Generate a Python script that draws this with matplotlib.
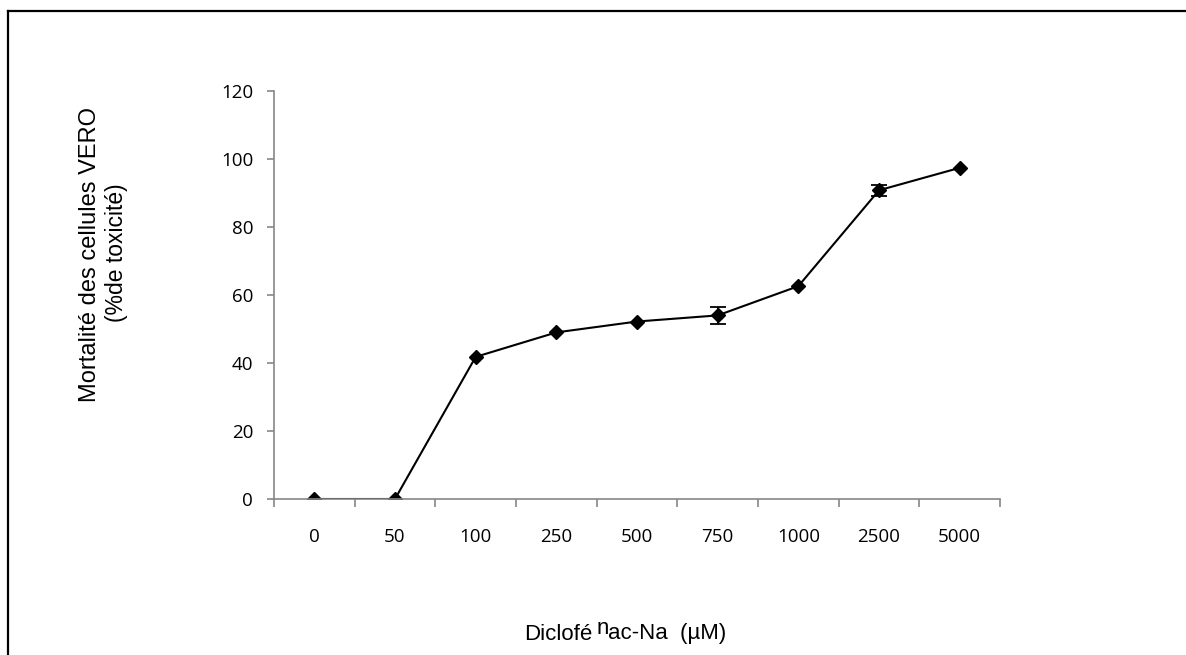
import matplotlib
matplotlib.use("Agg")
import matplotlib.pyplot as plt
from matplotlib.lines import Line2D
from matplotlib.ticker import FixedLocator

categories = ["0", "50", "100", "250", "500", "750", "1000", "2500", "5000"]
mortality = [0, 0, 41.8, 49.0, 52.2, 54.0, 62.6, 90.8, 97.4]
errors = [0, 0, 0, 0, 0, 2.6, 0, 1.6, 0]
yticks = [0, 20, 40, 60, 80, 100, 120]

W, H = 1186, 655
fig = plt.figure(figsize=(W / 100, H / 100), dpi=100)

def fx(px):
    return px / W

def fy(py):
    return 1 - py / H

# outer frame (only left and top edges visible)
fig.add_artist(Line2D([fx(8), fx(8)], [fy(H + 10), fy(11)], transform=fig.transFigure,
                      color="black", linewidth=1.6))
fig.add_artist(Line2D([fx(8), fx(W + 10)], [fy(11), fy(11)], transform=fig.transFigure,
                      color="black", linewidth=1.6))

ax = fig.add_axes([fx(274), fy(499), fx(1000) - fx(274), fy(91) - fy(499)])
x = list(range(len(categories)))
ax.plot(x, mortality, color="black", linewidth=1.5, marker="D", markersize=7.5)
ex = [xi for xi, e in zip(x, errors) if e > 0]
ey = [m for m, e in zip(mortality, errors) if e > 0]
ee = [e for e in errors if e > 0]
ax.errorbar(ex, ey, yerr=ee, fmt="none", ecolor="black", capsize=6,
            elinewidth=1.3, capthick=1.3)

ax.set_xlim(-0.5, len(categories) - 0.5)
ax.set_ylim(0, 120)
ax.set_yticks(yticks)
ax.set_yticklabels([str(v) for v in yticks])

ax.xaxis.set_major_locator(FixedLocator([i - 0.5 for i in range(len(categories) + 1)]))
ax.xaxis.set_minor_locator(FixedLocator(x))
ax.set_xticklabels([], minor=False)
ax.set_xticklabels(categories, minor=True)
ax.tick_params(axis="x", which="major", direction="out", length=6, width=1.2,
               color="#868686")
ax.tick_params(axis="x", which="minor", length=0, pad=21, labelsize=13.5)
ax.tick_params(axis="y", direction="out", length=5, width=1.2, color="#868686",
               pad=10, labelsize=13.5)
for lab in ax.get_xticklabels(minor=True) + ax.get_yticklabels():
    lab.set_fontfamily("Open Sans")

for s in ["top", "right"]:
    ax.spines[s].set_visible(False)
for s in ["left", "bottom"]:
    ax.spines[s].set_color("#868686")
    ax.spines[s].set_linewidth(1.2)

# y label (two lines)
fig.text(fx(90), fy(254), "Mortalité des cellules VERO", rotation=90,
         ha="center", va="center", fontsize=17, family="Liberation Sans")
fig.text(fx(117), fy(253), "(%de toxicité)", rotation=90,
         ha="center", va="center", fontsize=16.5, family="Liberation Sans")

# x label (with the displaced "n" as in the reference)
renderer = fig.canvas.get_renderer()
t1 = fig.text(fx(524), fy(634), "Diclofé", ha="left", va="center",
              fontsize=16, family="Liberation Sans")
bb1 = t1.get_window_extent(renderer)
t2 = fig.text((bb1.x1 + 4) / W, fy(629), "n", ha="left", va="center",
              fontsize=16, family="Liberation Sans")
bb2 = t2.get_window_extent(renderer)
fig.text((bb2.x1 - 1) / W, fy(634), "ac-Na  (µM)", ha="left", va="center",
         fontsize=16, family="Liberation Sans")

fig.savefig("out.png", dpi=100)
